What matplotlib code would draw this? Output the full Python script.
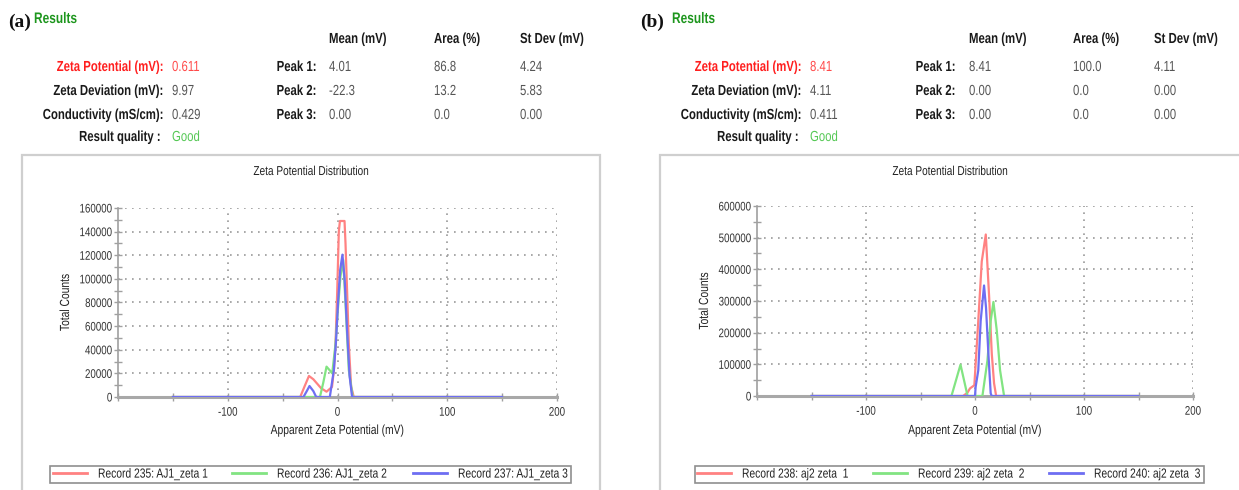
import matplotlib
matplotlib.use("Agg")
import matplotlib.pyplot as plt
from matplotlib.patches import Rectangle
from matplotlib.patheffects import AbstractPathEffect
from matplotlib.transforms import Affine2D, Bbox
from matplotlib.ticker import FixedLocator, FixedFormatter

# ---------------------------------------------------------------- data
# Panel (a): AJ1 records
a_red_x = [-150, -34, -30, -26, -22, -15, -10, -5, -3.3, -1.8, -0.3, 1.2, 2.2, 6.4, 7.3, 8.8, 10.3, 12.4, 14.8, 150]
a_red_y = [0, 0, 9000, 17800, 15000, 7500, 4500, 8500, 22800, 45000, 88000, 140000, 149000, 149000, 130000, 88000, 45000, 9000, 0, 0]
a_green_x = [-150, -16, -13, -10, -7, -4.8, -1.8, 0.3, 2.7, 5.2, 7.3, 10.3, 13.9, 150]
a_green_y = [0, 0, 12000, 25700, 22500, 20000, 45000, 73600, 102000, 116000, 79000, 22800, 0, 0]
a_blue_x = [-150, -31, -28, -25.5, -22, -19.4, -7, -3.3, -1.5, 0.5, 2.5, 4.5, 6.5, 8.8, 11, 13.3, 150]
a_blue_y = [0, 0, 5000, 9300, 5000, 0, 0, 22800, 45000, 80000, 108000, 120500, 100000, 55000, 18000, 0, 0]

# Panel (b): aj2 records
b_red_x = [-150, -11, -7, -4.6, -0.6, 3, 6.2, 9.9, 13, 15.4, 17.5, 19.4, 150]
b_red_y = [0, 0, 10000, 24000, 34000, 237000, 425000, 510000, 311000, 133000, 40000, 0, 0]
b_green_x = [-150, -21.6, -13.3, -6.8, 6.8, 11.4, 14.4, 16.9, 20, 23, 26.7, 150]
b_green_y = [0, 0, 99000, 0, 0, 112000, 237000, 297000, 206000, 81000, 0, 0]
b_blue_x = [-150, 0, 0.6, 3, 5.2, 8.3, 10.1, 12.3, 14.4, 15.4, 150]
b_blue_y = [0, 0, 29000, 81000, 237000, 349000, 279000, 133000, 8000, 0, 0]

a_labels = ["Record 235: AJ1_zeta 1", "Record 236: AJ1_zeta 2", "Record 237: AJ1_zeta 3"]
b_labels = ["Record 238: aj2 zeta  1", "Record 239: aj2 zeta  2", "Record 240: aj2 zeta  3"]

x_major = [-100, 0, 100, 200]
x_minor = [-200, -150, -50, 50, 150]
x_major_labels = ["-100", "0", "100", "200"]
a_yticks = [0, 20000, 40000, 60000, 80000, 100000, 120000, 140000, 160000]
a_yminor = [10000, 30000, 50000, 70000, 90000, 110000, 130000, 150000]
b_yticks = [0, 100000, 200000, 300000, 400000, 500000, 600000]
b_yminor = [50000, 150000, 250000, 350000, 450000, 550000]

# Results tables
a_summary = [("Zeta Potential (mV):", "0.611"), ("Zeta Deviation (mV):", "9.97"),
             ("Conductivity (mS/cm):", "0.429"), ("Result quality :", "Good")]
a_peaks = [("Peak 1:", "4.01", "86.8", "4.24"), ("Peak 2:", "-22.3", "13.2", "5.83"),
           ("Peak 3:", "0.00", "0.0", "0.00")]
b_summary = [("Zeta Potential (mV):", "8.41"), ("Zeta Deviation (mV):", "4.11"),
             ("Conductivity (mS/cm):", "0.411"), ("Result quality :", "Good")]
b_peaks = [("Peak 1:", "8.41", "100.0", "4.11"), ("Peak 2:", "0.00", "0.0", "0.00"),
           ("Peak 3:", "0.00", "0.0", "0.00")]
col_heads = ["Mean (mV)", "Area (%)", "St Dev (mV)"]

# ---------------------------------------------------------------- style
plt.rcParams["font.family"] = ["Liberation Sans", "DejaVu Sans"]
SX = 0.78          # horizontal squeeze of the narrow report lettering


class Squeeze(AbstractPathEffect):
    """Draw text glyphs narrower, keeping the aligned edge in place."""

    def __init__(self, sx=SX, align="left"):
        super().__init__()
        self.sx = sx
        self.align = align

    def draw_path(self, renderer, gc, tpath, affine, rgbFace=None):
        if self.align == "left":
            cx = 0.0
        else:
            ext = tpath.get_extents()
            cx = ext.x1 if self.align == "right" else 0.5 * (ext.x0 + ext.x1)
        pre = Affine2D().translate(-cx, 0).scale(self.sx, 1).translate(cx, 0)
        renderer.draw_path(gc, tpath, pre + affine, rgbFace)


def squeeze(t, align="left"):
    """Narrow a text artist and report its narrowed extent."""
    t.set_path_effects([Squeeze(SX, align)])
    base = t.get_window_extent

    def extent(renderer=None, dpi=None):
        bb = base(renderer, dpi)
        x0, y0, x1, y1 = bb.x0, bb.y0, bb.x1, bb.y1
        if abs(t.get_rotation() % 180 - 90) < 1:
            c, h = 0.5 * (y0 + y1), (y1 - y0) * SX
            return Bbox([[x0, c - h / 2], [x1, c + h / 2]])
        wd = (x1 - x0) * SX
        if align == "left":
            x1 = x0 + wd
        elif align == "right":
            x0 = x1 - wd
        else:
            c = 0.5 * (x0 + x1)
            x0, x1 = c - wd / 2, c + wd / 2
        return Bbox([[x0, y0], [x1, y1]])

    t.get_window_extent = extent
    return t


W, H = 1239, 490
fig = plt.figure(figsize=(W / 100, H / 100), dpi=100)
fig.patch.set_facecolor("white")


def fx(x):
    return x / W


def fy(y):
    return 1 - y / H


def ptext(x, y, s, narrow=True, **kw):
    kw.setdefault("va", "center")
    t = fig.text(fx(x), fy(y), s, **kw)
    if narrow:
        squeeze(t, kw.get("ha", "left"))
    return t


COL_RED = "#ff8282"
COL_GREEN = "#82e482"
COL_BLUE = "#6e6ef2"
DARK = "#1a1a1a"
VAL = "#555555"
GRID = "#9a9a9a"
HFS = 10.5


def header(tag, x_tag, x_res, x_lab_end, x_val, x_peak_end, x_cols, summary, peaks):
    ptext(x_tag, 22, tag, narrow=False, family="Liberation Serif", fontsize=14,
          fontweight="bold", color="#111111")
    ptext(x_res, 19, "Results", fontsize=11, fontweight="bold", color="#1e961e")
    for xc, h in zip(x_cols, col_heads):
        ptext(xc, 39, h, fontsize=HFS, fontweight="bold", color=DARK)
    rows = [67, 91, 115, 137]
    for i, (lab, val) in enumerate(summary):
        lab_col, val_col = DARK, VAL
        if i == 0:
            lab_col, val_col = "#ff1f1f", "#ff4a4a"
        if i == 3:
            val_col = "#55c855"
        xe = x_lab_end - (3 if i == 3 else 0)
        ptext(xe, rows[i], lab, ha="right", fontsize=HFS, fontweight="bold", color=lab_col)
        ptext(x_val, rows[i], val, fontsize=HFS, color=val_col)
    for i, (lab, m, a, s) in enumerate(peaks):
        ptext(x_peak_end, rows[i], lab, ha="right", fontsize=HFS, fontweight="bold", color=DARK)
        for xc, v in zip(x_cols, (m, a, s)):
            ptext(xc, rows[i], v, fontsize=HFS, color=VAL)


header("(a)", 8, 34, 164, 172, 317, (329, 434, 520), a_summary, a_peaks)
header("(b)", 640, 672, 802, 810, 956, (969, 1073, 1154), b_summary, b_peaks)

# panel frames
for x0, x1 in ((22, 600), (660, 1250)):
    fig.patches.append(Rectangle((fx(x0), fy(500)), fx(x1) - fx(x0), fy(155) - fy(500),
                                 transform=fig.transFigure, fill=False,
                                 edgecolor="#cfcfcf", linewidth=1.6, zorder=0))


def chart(box, series, labels, yticks, yminor, title_x, ylab_x, leg_box, leg_x):
    left, right, top, bottom = box
    ax = fig.add_axes([fx(left), fy(bottom), fx(right) - fx(left), fy(top) - fy(bottom)])
    ax.set_facecolor("none")
    lines = []
    for (xs, ys), col, lab in zip(series, (COL_RED, COL_GREEN, COL_BLUE), labels):
        ln, = ax.plot(xs, ys, color=col, lw=1.6, label=lab, solid_joinstyle="round", zorder=3)
        lines.append(ln)
    ax.set_xlim(-200, 200)
    ax.set_ylim(0, yticks[-1])
    ax.xaxis.set_major_locator(FixedLocator(x_major))
    ax.xaxis.set_major_formatter(FixedFormatter(x_major_labels))
    ax.xaxis.set_minor_locator(FixedLocator(x_minor))
    ax.yaxis.set_major_locator(FixedLocator(yticks))
    ax.yaxis.set_major_formatter(FixedFormatter([str(v) for v in yticks]))
    ax.yaxis.set_minor_locator(FixedLocator(yminor))
    ax.grid(True, which="major", color=GRID, linestyle=(0, (1, 3.2)), linewidth=1.2)
    for s in ("top", "right"):
        ax.spines[s].set_visible(False)
    ax.spines["left"].set_color("#a0a0a0")
    ax.spines["left"].set_linewidth(1.2)
    ax.spines["bottom"].set_color("#a8a8a8")
    ax.spines["bottom"].set_linewidth(2.2)
    ax.tick_params(which="both", direction="inout", length=6, width=1, color="#a0a0a0",
                   labelsize=9.0, labelcolor="#333333")
    ax.tick_params(axis="x", which="major", pad=4)
    ax.tick_params(axis="y", which="major", pad=1)
    for t in ax.get_xticklabels():
        squeeze(t, "center")
    for t in ax.get_yticklabels():
        squeeze(t, "right")
    h = bottom - top
    w = right - left
    tt = ax.text((title_x - left) / w, 1 + (top - 172) / h, "Zeta Potential Distribution",
                 transform=ax.transAxes, ha="center", va="center", fontsize=9.3, color="#222222")
    squeeze(tt, "center")
    ax.set_xlabel("Apparent Zeta Potential (mV)", fontsize=9.5, color="#222222", va="center")
    ax.xaxis.set_label_coords(0.5, -(431 - bottom) / h)
    squeeze(ax.xaxis.label, "center")
    ax.set_ylabel("Total Counts", fontsize=9.5, color="#222222", va="center")
    ax.yaxis.set_label_coords(-(left - ylab_x) / w, 0.5)
    squeeze(ax.yaxis.label, "center")

    # legend: one entry per record, inside a shared frame
    lx0, lx1, ly0, ly1 = leg_box
    fs = 9.5
    fpx = fs * 100 / 72
    for ln, hx in zip(lines, leg_x):
        leg = fig.legend(handles=[ln], loc="center left",
                         bbox_to_anchor=(fx(hx), fy(0.5 * (ly0 + ly1))),
                         fontsize=fs, frameon=False, borderpad=0, borderaxespad=0,
                         handlelength=34 / fpx, handletextpad=11 / fpx,
                         labelcolor="#222222")
        for lh in leg.legend_handles:
            lh.set_linewidth(2.0)
        for t in leg.get_texts():
            squeeze(t, "left")
    fig.patches.append(Rectangle((fx(lx0), fy(ly1)), fx(lx1) - fx(lx0), fy(ly0) - fy(ly1),
                                 transform=fig.transFigure, fill=False,
                                 edgecolor="#8f8f8f", linewidth=1.2, zorder=1))
    return ax


chart((118, 557, 208, 397),
      [(a_red_x, a_red_y), (a_green_x, a_green_y), (a_blue_x, a_blue_y)],
      a_labels, a_yticks, a_yminor, 311, 66, (50, 571, 466, 483), (53, 232, 413))
chart((757, 1193, 206, 396),
      [(b_red_x, b_red_y), (b_green_x, b_green_y), (b_blue_x, b_blue_y)],
      b_labels, b_yticks, b_yminor, 950, 705, (695, 1204, 466, 483), (697, 873, 1049))

fig.savefig("out.png", dpi=100, facecolor="white")
